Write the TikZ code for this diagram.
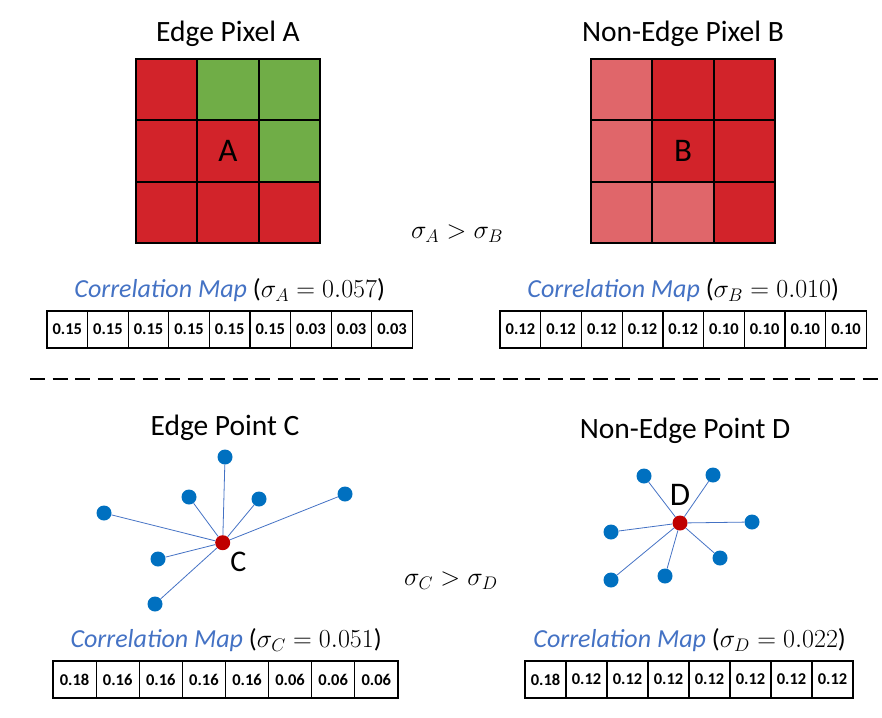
\RequirePackage{fix-cm}
\documentclass[tikz,border=0pt]{standalone}
\usepackage[no-math]{fontspec}
\setmainfont{Carlito}
\usepackage{tikz}
\usetikzlibrary{positioning}
\definecolor{pxred}{HTML}{D2232A}
\definecolor{pxlight}{HTML}{E0666A}
\definecolor{pxgreen}{HTML}{70AD47}
\definecolor{dotblue}{HTML}{0070C0}
\definecolor{dotred}{HTML}{C00000}
\definecolor{mapblue}{HTML}{4472C4}
\tikzstyle{cell} = [
    rectangle,
    draw=black,
    line width=1.8pt,
    minimum size=61.3pt,
    inner sep=0pt
]
\tikzstyle{val} = [
    rectangle,
    draw=black,
    line width=1.3pt,
    minimum height=37pt,
    inner sep=0pt,
    font=\fontsize{16.5}{17}\selectfont\bfseries
]
\tikzstyle{title} = [font=\fontsize{29.5}{32}\selectfont]
\tikzstyle{maplabel} = [font=\fontsize{26}{30}\selectfont]
\tikzstyle{letter} = [font=\fontsize{33}{36}\selectfont, inner sep=0pt]
\tikzstyle{leaf} = [circle, fill=dotblue, minimum size=15pt, inner sep=0pt]
\tikzstyle{hub} = [circle, fill=dotred, minimum size=15pt, inner sep=0pt]
\tikzstyle{link} = [draw=mapblue, line width=0.8pt]
\tikzstyle{divider} = [line width=2pt, dash pattern=on 15pt off 7.5pt]
\newcommand{\maptext}{\textcolor{mapblue}{\itshape Correlation Map}}

\begin{document}
\begin{tikzpicture}[x=1pt, y=-1pt]
    \useasboundingbox (0,0) rectangle (882,717);

    % Pixel grids
    \foreach \col/\row/\clr in {0/0/pxred, 1/0/pxgreen, 2/0/pxgreen,
        0/1/pxred, 1/1/pxred, 2/1/pxgreen, 0/2/pxred, 1/2/pxred, 2/2/pxred}
        \node[cell, fill=\clr] (a\col\row) at (166.7+61.3*\col, 89.7+61.3*\row) {};
    \foreach \col/\row/\clr in {0/0/pxlight, 1/0/pxred, 2/0/pxred,
        0/1/pxlight, 1/1/pxred, 2/1/pxred, 0/2/pxlight, 1/2/pxlight, 2/2/pxred}
        \node[cell, fill=\clr] (b\col\row) at (621.7+61.3*\col, 89.7+61.3*\row) {};

    \node[letter] (pa) at (a11) {A};
    \node[letter] (pb) at (b11) {B};
    \node[title, above=8pt of a10] (tpa) {Edge Pixel A};
    \node[title, above=8pt of b10] (tpb) {Non-Edge Pixel B};
    \node[maplabel] (cmpab) at (457,234) {$\sigma_A > \sigma_B$};

    % Correlation maps of the pixels
    \foreach \v [count=\i from 0] in {0.15,0.15,0.15,0.15,0.15,0.15,0.03,0.03,0.03}
        \node[val, minimum width=40.6pt] (ta\i) at (67.3+40.6*\i, 329.5) {\v};
    \foreach \v [count=\i from 0] in {0.12,0.12,0.12,0.12,0.12,0.10,0.10,0.10,0.10}
        \node[val, minimum width=40.7pt] (tb\i) at (520.4+40.7*\i, 329.5) {\v};
    \node[maplabel, above=5pt of ta4] (mapa) {\maptext{} ($\sigma_A = 0.057$)};
    \node[maplabel, above=5pt of tb4] (mapb) {\maptext{} ($\sigma_B = 0.010$)};

    % Separator
    \coordinate (dl) at (30,379);
    \coordinate (dr) at (882,379);
    \draw[divider] (dl) -- (dr);

    % Edge point C
    \node[title] (tpc) at (225,428) {Edge Point C};
    \node[hub] (c0) at (222.7,542.7) {};
    \node[leaf] (c1) at (225,457) {};
    \node[leaf] (c2) at (189,497) {};
    \node[leaf] (c3) at (259,499) {};
    \node[leaf] (c4) at (345,494) {};
    \node[leaf] (c5) at (104,513) {};
    \node[leaf] (c6) at (158,559) {};
    \node[leaf] (c7) at (155,604) {};
    \foreach \n in {1,...,7}
        \draw[link] (c0) -- (c\n);
    \node[letter, font=\fontsize{30}{32}\selectfont, below right=3.5pt and 2pt of c0] (lc) {C};

    % Non-edge point D
    \node[title] (tpd) at (685,431) {Non-Edge Point D};
    \node[hub] (d0) at (680,523) {};
    \node[leaf] (d1) at (644,476) {};
    \node[leaf] (d2) at (713,475) {};
    \node[leaf] (d3) at (752,522) {};
    \node[leaf] (d4) at (611,532) {};
    \node[leaf] (d5) at (720,558) {};
    \node[leaf] (d6) at (665,576) {};
    \node[leaf] (d7) at (611,580) {};
    \foreach \n in {1,...,7}
        \draw[link] (d0) -- (d\n);
    \node[letter, above=10pt of d0] (ld) {D};
    \node[maplabel] (cmpcd) at (451,581) {$\sigma_C > \sigma_D$};

    % Correlation maps of the points
    \foreach \v [count=\i from 0] in {0.18,0.16,0.16,0.16,0.16,0.06,0.06,0.06}
        \node[val, minimum width=43.1pt] (tc\i) at (74.6+43.1*\i, 679.5) {\v};
    \foreach \v [count=\i from 0] in {0.18,0.12,0.12,0.12,0.12,0.12,0.12,0.12}
        \node[val, minimum width=41pt] (td\i) at (545.5+41*\i, 679.5) {\v};
    \node[maplabel, above=5pt of tc3.north east] (mapc) {\maptext{} ($\sigma_C = 0.051$)};
    \node[maplabel, above=5pt of td3.north east] (mapd) {\maptext{} ($\sigma_D = 0.022$)};
\end{tikzpicture}
\end{document}
